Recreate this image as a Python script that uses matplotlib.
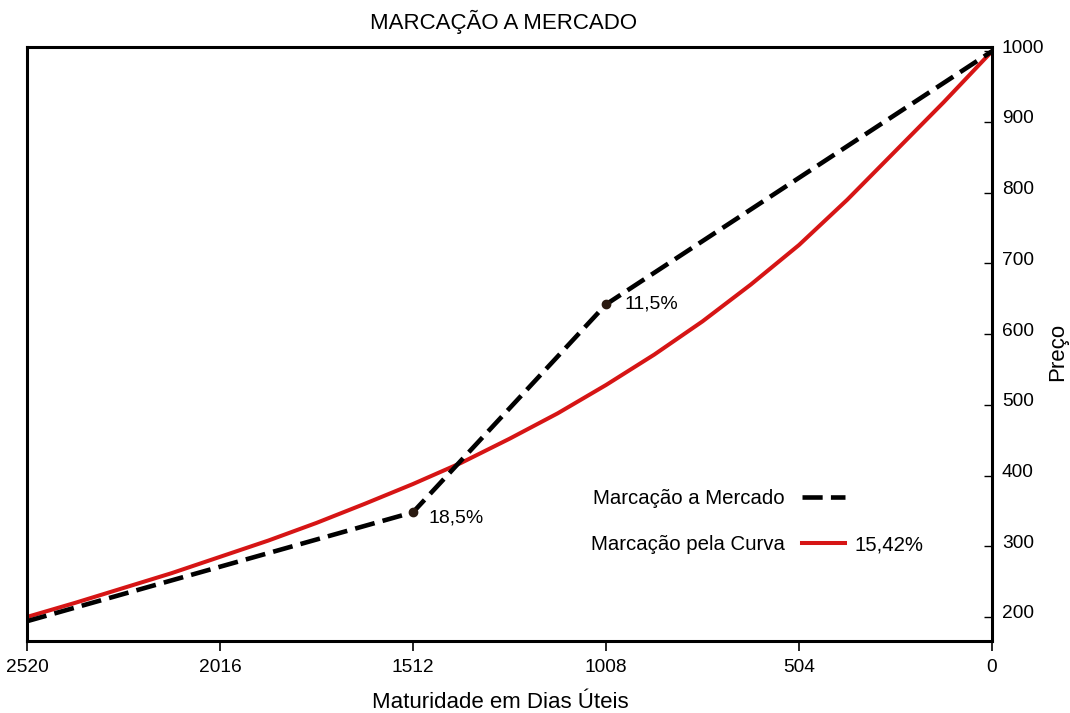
import matplotlib
matplotlib.use("Agg")
import matplotlib.pyplot as plt
from matplotlib.transforms import ScaledTranslation

plt.rcParams["font.family"] = ["Liberation Sans", "DejaVu Sans"]

# dias úteis até o vencimento e preços
market_days = [2520, 1512, 1008, 0]
market_price = [194, 348, 642, 1000]
market_rates = ["18,5%", "11,5%"]

curve_days = [2520, 2394, 2268, 2142, 2016, 1890, 1764, 1638, 1512, 1386, 1260,
              1134, 1008, 882, 756, 630, 504, 378, 252, 126, 0]
curve_price = [200, 220, 241, 262, 285, 308, 333, 360, 388, 418, 452,
               488, 528, 571, 618, 670, 726, 790, 859, 928, 1000]
curve_rate = "15,42%"

x_ticks = [2520, 2016, 1512, 1008, 504, 0]
y_ticks = [200, 300, 400, 500, 600, 700, 800, 900, 1000]

RED = "#d61515"

fig = plt.figure(figsize=(10.7, 7.13), dpi=100)
ax = fig.add_axes([27 / 1070, 1 - 641 / 713, (992 - 27) / 1070, (641 - 47) / 713])

ax.plot(curve_days, curve_price, color=RED, lw=2.9, label="Marcação pela Curva", zorder=2)
ax.plot(market_days, market_price, color="black", lw=3.3, dashes=(4.4, 1.8),
        label="Marcação a Mercado", zorder=3)
ax.plot(market_days[1:3], market_price[1:3], "o", color="#2a1a10", ms=6, zorder=4)

ax.annotate(market_rates[0], (market_days[1], market_price[1]), xytext=(11, -4),
            textcoords="offset points", va="center", ha="left", fontsize=14)
ax.annotate(market_rates[1], (market_days[2], market_price[2]), xytext=(13, 0),
            textcoords="offset points", va="center", ha="left", fontsize=14)

ax.set_xlim(2520, 0)
ax.set_ylim(166, 1006)
ax.set_xticks(x_ticks, [str(t) for t in x_ticks])
ax.set_yticks(y_ticks, [str(t) for t in y_ticks])
ax.yaxis.tick_right()
ax.tick_params(axis="x", direction="out", length=7, width=1.2, pad=6, labelsize=13.8)
ax.tick_params(axis="y", direction="in", length=5.5, width=1.0, pad=7, labelsize=13.8)
for lab in ax.get_yticklabels():
    lab.set_transform(lab.get_transform() + ScaledTranslation(0, 5 / 100, fig.dpi_scale_trans))
for sp in ax.spines.values():
    sp.set_linewidth(2.2)

leg = ax.legend(handles=ax.get_lines()[1::-1], loc="upper left", markerfirst=False,
                bbox_to_anchor=(591 / 1070, 1 - 489 / 713), bbox_transform=fig.transFigure,
                frameon=False, fontsize=14.7, handlelength=2.1, handletextpad=0.83,
                labelspacing=1.32, borderpad=0, borderaxespad=0)
fig.text(855 / 1070, 1 - 545 / 713, curve_rate, fontsize=14.7, va="center", ha="left")

fig.text(504 / 1070, 1 - 22 / 713, "MARCAÇÃO A MERCADO", fontsize=16, ha="center", va="center")
fig.text(500 / 1070, 1 - 702 / 713, "Maturidade em Dias Úteis", fontsize=16, ha="center", va="center")
fig.text(1058 / 1070, 1 - 352 / 713, "Preço", fontsize=16, ha="center", va="center", rotation=90)

fig.savefig("out.png", dpi=100)
